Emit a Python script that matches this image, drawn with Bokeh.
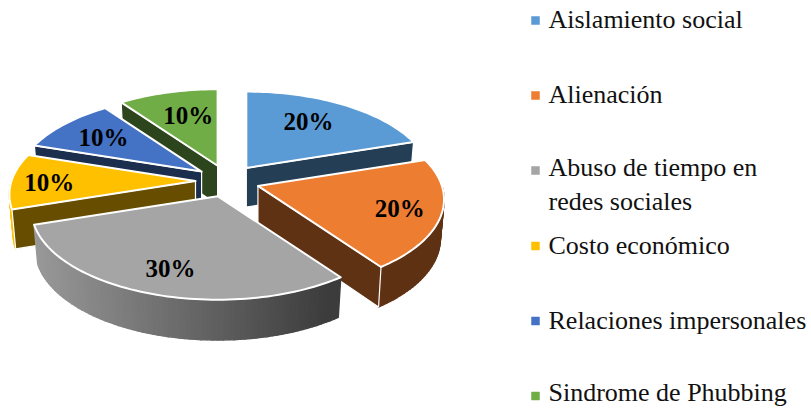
import math
from bokeh.plotting import figure, ColumnDataSource
from bokeh.models import Range1d
from bokeh.core.properties import value
from bokeh.embed import file_html
from bokeh.resources import INLINE

# --- data ---
categories = ["Aislamiento social", "Alienación", "Abuso de tiempo en\nredes sociales",
              "Costo económico", "Relaciones impersonales", "Sindrome de Phubbing"]
percent = [20, 20, 30, 10, 10, 10]
colors = ["#5b9bd5", "#ed7d31", "#a5a5a5", "#ffc000", "#4472c4", "#70ad47"]
side_colors = ["#243e55", "#5f3214", "#424242", "#664d00", "#1b2e4e", "#2d451c"]
label_reach = [0.65, 0.77, 0.77, 0.80, 0.67, 0.62]
label_nudge = [(-3, -4), (2, 1), (2, 0), (1, 1), (-4, -1), (3, -3)]

# --- geometry of the tilted, exploded pie (page pixels) ---
W, H = 811, 408
CX, CY, R, TILT, K, DEPTH = 227, 180.5, 184, 88, 0.15, 39
EXPL_X, EXPL_Y = 32, 16
FONT = "Liberation Serif"

def rim(ax, ay, deg, r=1.0):
    t = math.radians(deg)
    u, v = math.sin(t), -math.cos(t)
    s = 1 / (1 - K * v * r)
    return ax + R * u * r * s, ay + TILT * v * r * s, s, v

def base(ax, ay, deg):
    x, y, s, _ = rim(ax, ay, deg)
    return ax + (x - ax) * 0.98, y + DEPTH * s ** 0.2

def mix(a, b, f):
    ca = [int(a[i:i + 2], 16) for i in (1, 3, 5)]
    cb = [int(b[i:i + 2], 16) for i in (1, 3, 5)]
    return "#%02x%02x%02x" % tuple(round(p + (q - p) * f) for p, q in zip(ca, cb))

starts, acc = [], 0
for pct in percent:
    starts.append(acc)
    acc += pct * 3.6

slices = []
for i, pct in enumerate(percent):
    a0 = starts[i]
    a1 = a0 + pct * 3.6
    mid = math.radians((a0 + a1) / 2)
    slices.append(dict(i=i, a0=a0, a1=a1,
                       ax=CX + EXPL_X * math.sin(mid),
                       ay=CY - EXPL_Y * math.cos(mid)))

xs, ys, fills, lines, widths = [], [], [], [], []
def add(px, py, fill, line, width):
    xs.append(px); ys.append(py); fills.append(fill); lines.append(line); widths.append(width)

# painter's order: back slices first, the gray one in front
for idx in [5, 4, 3, 0, 1, 2]:
    sl = slices[idx]
    ax, ay, a0, a1 = sl["ax"], sl["ay"], sl["a0"], sl["a1"]
    steps = int((a1 - a0) / 1.5)
    angles = [a0 + (a1 - a0) * n / steps for n in range(steps + 1)]
    # outer wall (front-facing part only)
    for n in range(steps):
        b0, b1 = angles[n], angles[n + 1]
        if rim(ax, ay, (b0 + b1) / 2)[3] < 0:
            continue
        x0, y0, *_ = rim(ax, ay, b0)
        x1, y1, *_ = rim(ax, ay, b1)
        x2, y2 = base(ax, ay, b1)
        x3, y3 = base(ax, ay, b0)
        if idx == 2:
            c = mix("#9a9a9a", "#3c3c3c", min(1, max(0, (x0 - 30) / 300)))
        elif idx == 3:
            c = colors[3]
        else:
            c = side_colors[idx]
        add([x0, x1, x2, x3], [y0, y1, y2, y3], c, c, 1.5)
    # cut face visible from the front
    if idx != 2:
        edge = a1 if idx in (0, 1) else a0
        ex, ey, *_ = rim(ax, ay, edge)
        bx, by = base(ax, ay, edge)
        add([ax, ex, bx, ax], [ay, ey, by, ay + DEPTH], side_colors[idx], "white", 1.2)
    # top face
    px, py = [ax], [ay]
    for b in angles:
        x, y, *_ = rim(ax, ay, b)
        px.append(x); py.append(y)
    add(px, py, colors[idx], "white", 2)

p = figure(width=W, height=H, output_backend="svg", toolbar_location=None,
           x_range=Range1d(0, W), y_range=Range1d(H, 0), min_border=0,
           background_fill_color="white", border_fill_color="white", outline_line_color=None)
p.axis.visible = False
p.grid.visible = False

p.patches("xs", "ys", source=ColumnDataSource(dict(xs=xs, ys=ys, f=fills, l=lines, w=widths)),
          fill_color="f", line_color="l", line_width="w", line_join="round")

# data labels
lx, ly, lt = [], [], []
for sl, reach, pct, nudge in zip(slices, label_reach, percent, label_nudge):
    mid = (sl["a0"] + sl["a1"]) / 2
    x, y, *_ = rim(sl["ax"], sl["ay"], mid, reach)
    lx.append(x + nudge[0]); ly.append(y + nudge[1]); lt.append(f"{pct}%")
p.text(lx, ly, text=lt, text_font=value(FONT), text_font_style="bold", text_font_size="25px",
       text_align="center", text_baseline="middle", text_color="black")

# legend
LEG_Y = [20, 95, 170, 245.5, 320.5, 395.5]
p.scatter([535] * 6, LEG_Y, marker="square", size=8, fill_color=colors, line_color=colors, line_width=0.5)
tx_y = [y + (14 if "\n" in c else -1) for y, c in zip(LEG_Y, categories)]
tx_y[-1] -= 3
p.text([548] * 6, tx_y, text=categories, text_font=value(FONT), text_font_size="26px",
       text_align="left", text_baseline="middle", text_color="#111111", text_line_height=1.15)

open("out.html", "w").write(file_html(p, INLINE))
